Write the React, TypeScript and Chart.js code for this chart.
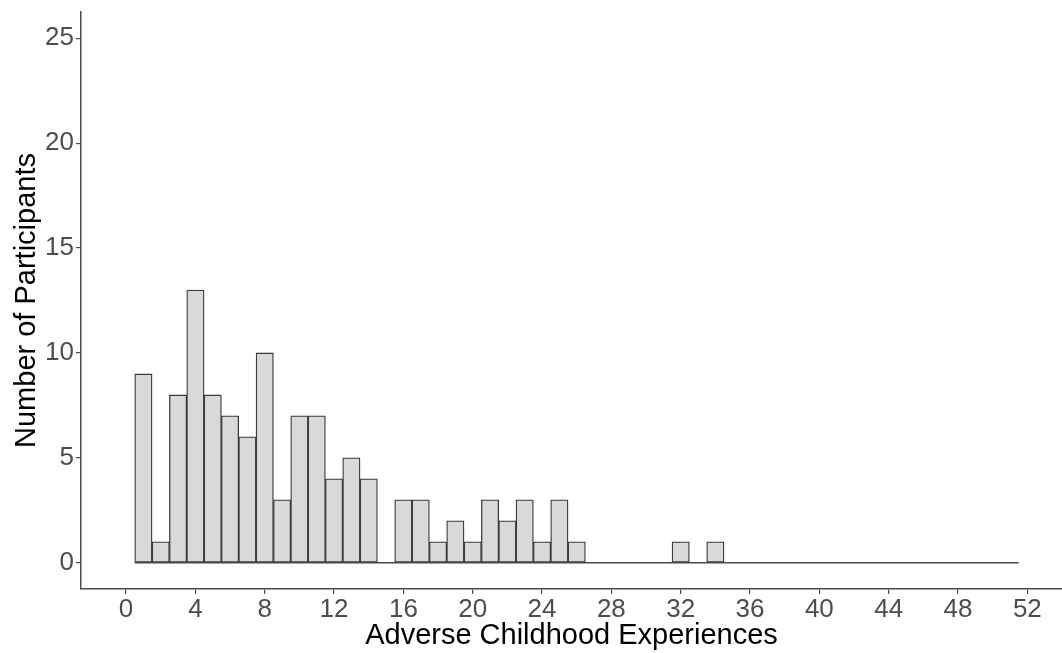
import React, { useEffect, useRef } from "react";
import { Chart, registerables } from "chart.js";

Chart.register(...registerables);

const bins: number[] = Array.from({ length: 51 }, (_, i) => i + 1);
const counts: number[] = [
  9, 1, 8, 13, 8, 7, 6, 10, 3, 7, 7, 4, 5, 4, 0,
  3, 3, 1, 2, 1, 3, 2, 3, 1, 3, 1,
  0, 0, 0, 0, 0, 1, 0, 1,
  0, 0, 0, 0, 0, 0, 0, 0, 0, 0, 0, 0, 0, 0, 0, 0, 0,
];
const xTicks: number[] = [0, 4, 8, 12, 16, 20, 24, 28, 32, 36, 40, 44, 48, 52];
const yTicks: number[] = [0, 5, 10, 15, 20, 25];
const baseline: number[] = [0.5, 51.5];

const W = 1062;
const H = 653;
const FONT = "'Liberation Sans', Arial, Helvetica, sans-serif";

export default function App() {
  const ref = useRef<HTMLCanvasElement | null>(null);

  useEffect(() => {
    if (!ref.current) return;
    const chart = new Chart(ref.current, {
      type: "bar",
      data: {
        datasets: [
          {
            type: "bar",
            data: bins.map((b, i) => ({ x: b, y: counts[i] })),
            backgroundColor: "#d9d9d9",
            borderColor: "#3a3a3a",
            borderWidth: 1.3,
            borderSkipped: false,
            barPercentage: 1,
            categoryPercentage: 1,
            order: 2,
          } as any,
          {
            type: "line",
            data: baseline.map((x) => ({ x, y: 0 })),
            borderColor: "#4a4a4a",
            borderWidth: 1.3,
            pointRadius: 0,
            order: 1,
          } as any,
        ],
      },
      options: {
        responsive: false,
        animation: false,
        devicePixelRatio: 1,
        layout: { padding: { top: 12, right: 0, left: 0, bottom: 0 } },
        plugins: { legend: { display: false }, tooltip: { enabled: false } },
        scales: {
          x: {
            type: "linear",
            offset: false,
            min: -2.6,
            max: 54,
            afterBuildTicks: (s: any) => {
              s.ticks = xTicks.map((v) => ({ value: v }));
            },
            afterFit: (s: any) => {
              s.height = 64;
              s.paddingLeft = 0;
              s.paddingRight = 0;
            },
            grid: {
              offset: false,
              drawOnChartArea: false,
              drawTicks: true,
              tickLength: 5,
              color: "#4d4d4d",
              lineWidth: 1.2,
            },
            border: { display: true, color: "#4d4d4d", width: 1.5 },
            ticks: {
              color: "#4d4d4d",
              font: { family: FONT, size: 26 },
              padding: 0,
              maxRotation: 0,
              autoSkip: false,
            },
            title: {
              display: true,
              text: "Adverse Childhood Experiences",
              color: "#000",
              font: { family: FONT, size: 29 },
              padding: 0,
            },
          },
          y: {
            type: "linear",
            min: -1.25,
            max: 26.25,
            afterBuildTicks: (s: any) => {
              s.ticks = yTicks.map((v) => ({ value: v }));
            },
            afterFit: (s: any) => {
              s.width = 81;
              s.paddingTop = 0;
              s.paddingBottom = 0;
            },
            grid: {
              drawOnChartArea: false,
              drawTicks: true,
              tickLength: 5,
              color: "#4d4d4d",
              lineWidth: 1.2,
            },
            border: { display: true, color: "#4d4d4d", width: 1.5 },
            ticks: {
              color: "#4d4d4d",
              font: { family: FONT, size: 26 },
              padding: 2,
              autoSkip: false,
            },
            title: {
              display: true,
              text: "Number of Participants",
              color: "#000",
              font: { family: FONT, size: 29 },
              padding: 10,
            },
          },
        },
      },
    });
    return () => chart.destroy();
  }, []);

  return (
    <div style={{ position: "fixed", left: 0, top: 0, width: W, height: H, background: "#fff" }}>
      <canvas ref={ref} width={W} height={H} style={{ width: W, height: H, display: "block" }} />
    </div>
  );
}
